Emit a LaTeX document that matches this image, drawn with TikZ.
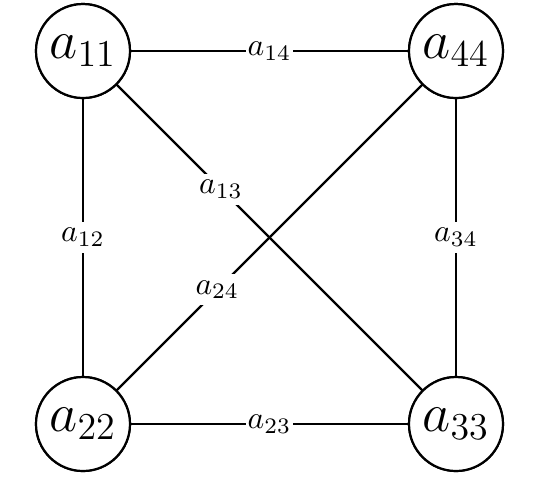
\documentclass[tikz,border=0pt]{standalone}
\begin{document}
\begin{tikzpicture}[x=0.316pt,y=-0.316pt,
  vert/.style={circle,draw,line width=0.7pt,minimum size=29.7pt,inner sep=0pt,font=\fontsize{17}{20}\selectfont},
  lab/.style={fill=white,inner xsep=0.6pt,inner ysep=2pt,font=\normalsize},
  edge/.style={line width=0.7pt}]
\useasboundingbox (0,0) rectangle (540,479);
\node[vert] (a11) at (83,51) {$a_{11}$};
\node[vert] (a44) at (456,51) {$a_{44}$};
\node[vert] (a22) at (83,424) {$a_{22}$};
\node[vert] (a33) at (456,424) {$a_{33}$};
\draw[edge] (a11) -- node[lab] {$a_{14}$} (a44);
\draw[edge] (a11) -- node[lab] {$a_{12}$} (a22);
\draw[edge] (a44) -- node[lab] {$a_{34}$} (a33);
\draw[edge] (a22) -- node[lab] {$a_{23}$} (a33);
\draw[edge] (a11.center) -- node[lab,pos=0.37] {$a_{13}$} (a33.center);
\draw[edge] (a22.center) -- node[lab,pos=0.36] {$a_{24}$} (a44.center);
\node[vert,fill=white] at (a11) {$a_{11}$};
\node[vert,fill=white] at (a44) {$a_{44}$};
\node[vert,fill=white] at (a22) {$a_{22}$};
\node[vert,fill=white] at (a33) {$a_{33}$};
\end{tikzpicture}
\end{document}
